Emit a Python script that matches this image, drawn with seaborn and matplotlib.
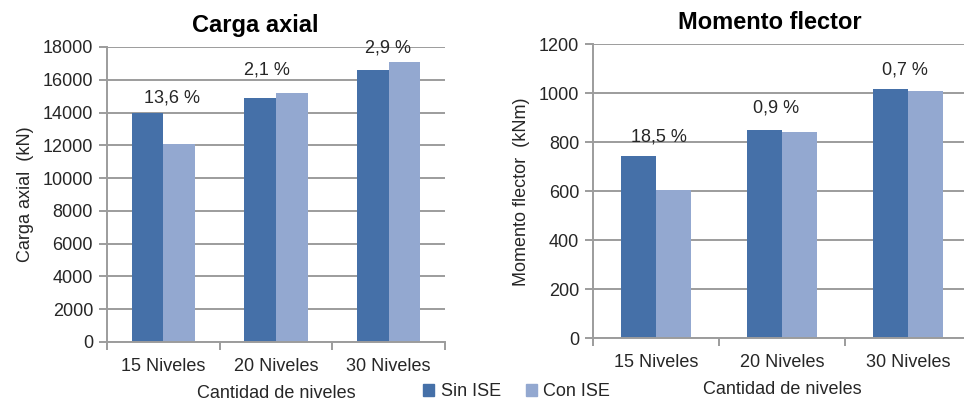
import matplotlib
matplotlib.use("Agg")
import matplotlib.pyplot as plt
import pandas as pd
import seaborn as sns

sns.set_style("white")
plt.rcParams["font.family"] = ["Liberation Sans", "DejaVu Sans"]

niveles = ["15 Niveles", "20 Niveles", "30 Niveles"]
series = ["Sin ISE", "Con ISE"]

carga_sin = [14000, 14900, 16600]
carga_con = [12100, 15200, 17080]
carga_pct = ["13,6 %", "2,1 %", "2,9 %"]

momento_sin = [745, 850, 1016]
momento_con = [607, 842, 1009]
momento_pct = ["18,5 %", "0,9 %", "0,7 %"]

colors = {"Sin ISE": "#4570A8", "Con ISE": "#93A8D0"}
grid_c = "#9C9C9C"
text_c = "#262626"


def long_table(sin, con):
    rows = []
    for cat, a, b in zip(niveles, sin, con):
        rows.append({"Nivel": cat, "Serie": "Sin ISE", "Valor": a})
        rows.append({"Nivel": cat, "Serie": "Con ISE", "Valor": b})
    return pd.DataFrame(rows)


def draw(ax, sin, con, pct, ymax, step, title, title_x, ylabel, label_dx, label_y):
    df = long_table(sin, con)
    sns.barplot(data=df, x="Nivel", y="Valor", hue="Serie", order=niveles,
                hue_order=series, palette=colors, saturation=1, width=0.56,
                linewidth=0, ax=ax, legend=False)
    ax.set_xlim(-0.5, 2.5)
    ax.set_ylim(0, ymax)
    ax.set_yticks(range(0, ymax + 1, step))
    ax.yaxis.grid(True, color=grid_c, linewidth=1.4)
    ax.set_axisbelow(True)
    for s in ["top", "right"]:
        ax.spines[s].set_visible(False)
    for s in ["left", "bottom"]:
        ax.spines[s].set_color(grid_c)
        ax.spines[s].set_linewidth(1.4)
    ax.tick_params(axis="y", left=True, length=6, width=1.4, color=grid_c,
                   labelsize=13, labelcolor=text_c, pad=4)
    # category ticks sit on the boundaries between groups
    ax.set_xticks([-0.5, 0.5, 1.5, 2.5], minor=True)
    ax.tick_params(axis="x", which="minor", bottom=True, length=6, width=1.4,
                   color=grid_c)
    ax.tick_params(axis="x", which="major", bottom=False, labelsize=13,
                   labelcolor=text_c, pad=8)
    ax.set_title(title, fontsize=17, fontweight="bold", color="black",
                 x=title_x, pad=11)
    ax.set_xlabel("Cantidad de niveles", fontsize=13, color=text_c, labelpad=7)
    ax.set_ylabel(ylabel, fontsize=13, color=text_c, labelpad=6)
    for i, (t, dx, y) in enumerate(zip(pct, label_dx, label_y)):
        ax.text(i + dx, y, t, ha="center", va="center", fontsize=13,
                color=text_c)


fig = plt.figure(figsize=(9.64, 4.04), dpi=100)
ax1 = fig.add_axes([0.111, 0.1535, 0.3506, 0.7302])
ax2 = fig.add_axes([0.6151, 0.1626, 0.392, 0.7277])

draw(ax1, carga_sin, carga_con, carga_pct, 18000, 2000, "Carga axial", 0.438,
     "Carga axial  (kN)", [0.08, -0.08, -0.01], [14900, 16600, 17940])
draw(ax2, momento_sin, momento_con, momento_pct, 1200, 200, "Momento flector",
     0.468, "Momento flector  (kNm)", [0.02, -0.05, -0.02], [823, 939, 1095])

handles = [plt.Rectangle((0, 0), 1, 1, color=colors[s]) for s in series]
fig.legend(handles, series, loc="center", bbox_to_anchor=(0.536, 0.03),
           ncol=2, frameon=False, fontsize=13, handlelength=0.6,
           handleheight=0.6, handletextpad=0.35, columnspacing=1.4,
           labelcolor=text_c)

fig.savefig("out.png", dpi=100)
